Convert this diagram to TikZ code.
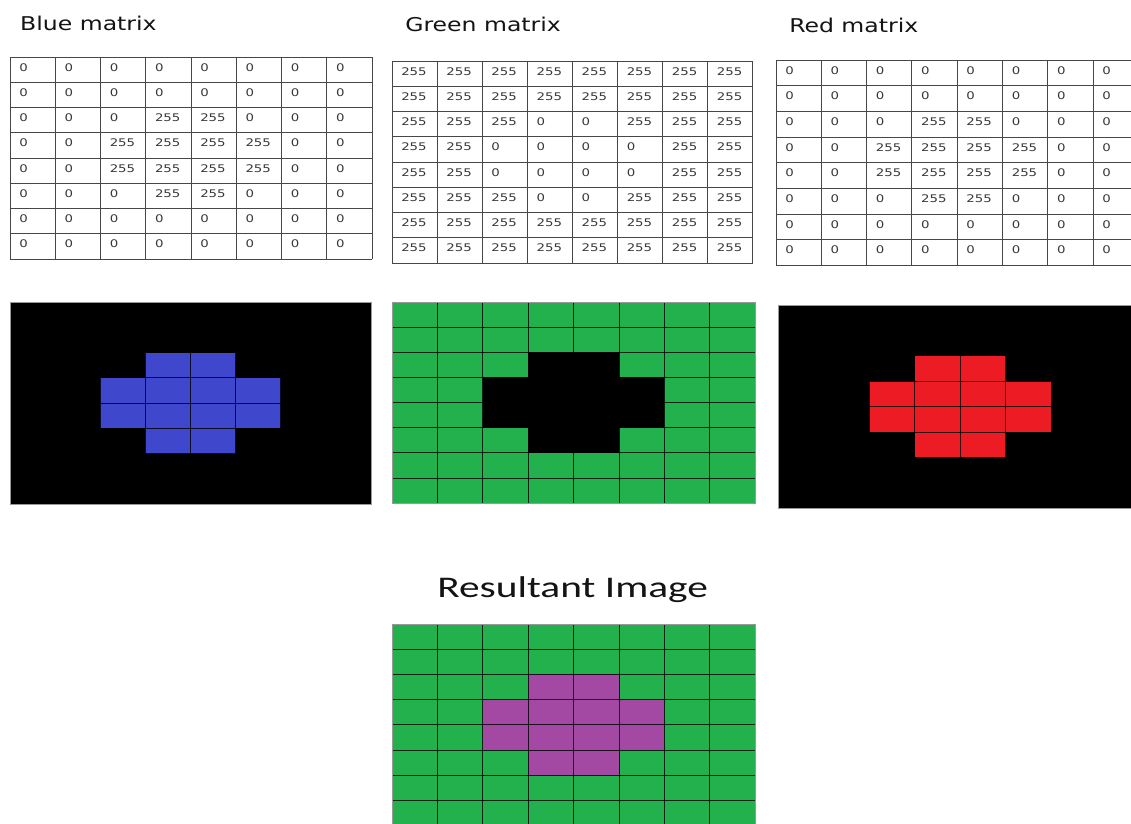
\documentclass[tikz,border=0pt]{standalone}
\usepackage{fontspec}
\setmainfont{DejaVu Sans}
\newfontfamily\carlfont{Carlito}
\definecolor{pixblue}{RGB}{63,72,204}
\definecolor{pixgreen}{RGB}{34,177,76}
\definecolor{pixred}{RGB}{237,28,36}
\definecolor{pixpurple}{RGB}{163,73,164}
\newcommand\patcalc[2]{\pgfmathtruncatemacro\pat{(((#1==2)||(#1==5))&&((#2==3)||(#2==4)))||(((#1==3)||(#1==4))&&(#2>1)&&(#2<6))}}
% #1 prefix, #2 x0, #3 y0, #4 cw, #5 rh, #6 invert (0/1)
\newcommand\drawvaltable[6]{%
  \foreach \ri in {0,...,7}{%
    \foreach \ci in {0,...,7}{%
      \patcalc{\ri}{\ci}%
      \pgfmathtruncatemacro\val{abs(#6-\pat)}%
      \node[num] (#1-\ri-\ci) at ({#2+\ci*#4+9},{#3+\ri*#5+14}) {\ifnum\val=1 255\else 0\fi};
    }}
  \foreach \i in {0,...,8}{%
    \draw[tabline] ({#2+\i*#4},#3) -- ({#2+\i*#4},{#3+8*#5});
    \draw[tabline] (#2,{#3+\i*#5}) -- ({#2+8*#4},{#3+\i*#5});
  }}
% #1 x0, #2 y0, #3 cw, #4 rh, #5 pattern colour, #6 background colour
\newcommand\drawpix[6]{%
  \fill[#6] (#1,#2) rectangle ({#1+8*#3},{#2+8*#4});
  \foreach \ri in {0,...,7}{%
    \foreach \ci in {0,...,7}{%
      \patcalc{\ri}{\ci}%
      \ifnum\pat=1
        \fill[#5] ({#1+\ci*#3},{#2+\ri*#4}) rectangle ({#1+(\ci+1)*#3},{#2+(\ri+1)*#4});
      \fi
    }}
  \foreach \i in {1,...,7}{%
    \draw[pixline] ({#1+\i*#3},#2) -- ({#1+\i*#3},{#2+8*#4});
    \draw[pixline] (#1,{#2+\i*#4}) -- ({#1+8*#3},{#2+\i*#4});
  }
  \draw[pixborder] (#1,#2) rectangle ({#1+8*#3},{#2+8*#4});
}
\begin{document}
\begin{tikzpicture}[x=1pt,y=-1pt,
  title/.style={anchor=base west, inner sep=0pt, font=\fontsize{19}{22}\selectfont, text=black!92, xscale=1.24},
  num/.style={anchor=base west, inner sep=0pt, font=\fontsize{10.5}{12}\selectfont, text=black!78, xscale=1.27},
  bigtitle/.style={anchor=base west, inner sep=0pt, font=\carlfont\fontsize{30}{34}\selectfont, text=black!92, xscale=1.38},
  tabline/.style={draw=black!72, line width=0.9pt},
  pixline/.style={draw=black, draw opacity=0.8, line width=1pt},
  pixborder/.style={draw=black!40, line width=0.6pt}]
\useasboundingbox (0,0) rectangle (1131,823);
\fill[white] (0,0) rectangle (1131,823);
\clip (0,0) rectangle (1131,823);
% titles
\node[title] (tblue) at (20,30) {Blue matrix};
\node[title] (tgreen) at (405,31) {Green matrix};
\node[title] (tred) at (789,32) {Red matrix};
\node[bigtitle] (tres) at (437,597) {Resultant Image};
% value tables
\drawvaltable{b}{10}{57}{45.25}{25.25}{0}
\drawvaltable{g}{392}{61}{45.1}{25.25}{1}
\drawvaltable{r}{776}{60}{45.3}{25.7}{0}
% pixel images
\drawpix{10}{302}{45.1}{25.25}{pixblue}{black}
\drawpix{392}{302}{45.4}{25.15}{black}{pixgreen}
\drawpix{778}{305}{45.5}{25.4}{pixred}{black}
\drawpix{392}{624}{45.4}{25.2}{pixpurple}{pixgreen}
\end{tikzpicture}
\end{document}
